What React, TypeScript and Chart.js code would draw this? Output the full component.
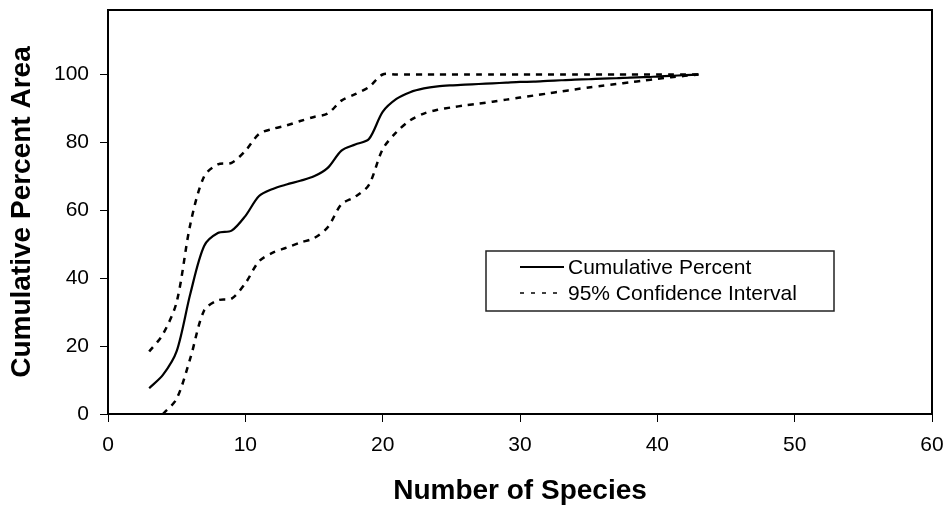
import React, { useEffect, useRef } from "react";
import { Chart, registerables } from "chart.js";

Chart.register(...registerables);

const speciesCount = [
  3, 4, 5, 6, 7, 8, 9, 10, 11, 12, 13, 14, 15, 16, 17, 18, 19, 20, 21, 22, 23,
  24, 25, 26, 27, 28, 29, 30, 31, 32, 33, 34, 35, 36, 37, 38, 39, 40, 41, 42, 43,
];

const cumulativePercent = [
  7.6, 11.5, 18.5, 35.5, 49.5, 53.3, 54, 58.3, 64.2, 66.3, 67.6, 68.7, 70, 72.5,
  77.6, 79.4, 81, 89, 92.8, 94.8, 95.9, 96.5, 96.8, 97.0, 97.2, 97.4, 97.6, 97.8,
  97.9, 98.1, 98.3, 98.5, 98.6, 98.8, 98.9, 99.1, 99.2, 99.4, 99.6, 99.8, 100,
];

const upperCI = [
  18.4, 23.5, 33, 56, 70, 73.5, 74, 77.5, 82.5, 84, 85, 86.3, 87.5, 88.5, 92.3,
  94.2, 96.3, 100, 100, 100, 100, 100, 100, 100, 100, 100, 100, 100, 100, 100,
  100, 100, 100, 100, 100, 100, 100, 100, 100, 100, 100,
];

const lowerCI: (number | null)[] = [
  null, 0, 4.5, 16.5, 30.5, 33.5, 34, 38.5, 45, 47.5, 49, 50.5, 51.8, 55, 61.8,
  64, 67.5, 78, 83, 86.5, 88.5, 89.6, 90.3, 90.9, 91.4, 92, 92.6, 93.2, 93.8,
  94.4, 95, 95.6, 96.2, 96.7, 97.2, 97.7, 98.2, 98.7, 99.2, 99.6, 100,
];

const xTickValues = [0, 10, 20, 30, 40, 50, 60];
const yTickValues = [0, 20, 40, 60, 80, 100];
const legendLabels = ["Cumulative Percent", "95% Confidence Interval"];

const FONT = "'Liberation Sans', Arial, sans-serif";

const toPoints = (ys: (number | null)[]) =>
  speciesCount.map((x, i) => ({ x, y: ys[i] }));

const framePlugin = {
  id: "frame",
  afterDatasetsDraw(chart: any) {
    const { ctx, chartArea } = chart;
    ctx.save();
    ctx.strokeStyle = "#000";
    ctx.lineWidth = 2;
    ctx.strokeRect(
      chartArea.left,
      chartArea.top,
      chartArea.right - chartArea.left,
      chartArea.bottom - chartArea.top
    );
    ctx.restore();
  },
};

const boxLegendPlugin = {
  id: "boxLegend",
  afterDraw(chart: any) {
    const ctx = chart.ctx;
    const left = 486;
    const top = 251;
    const w = 348;
    const h = 60;
    ctx.save();
    ctx.fillStyle = "#fff";
    ctx.fillRect(left, top, w, h);
    ctx.strokeStyle = "#222";
    ctx.lineWidth = 1.5;
    ctx.strokeRect(left, top, w, h);
    ctx.font = `21px ${FONT}`;
    ctx.fillStyle = "#000";
    ctx.textBaseline = "middle";
    ctx.textAlign = "left";
    const rows = [267, 293];
    rows.forEach((cy, i) => {
      ctx.beginPath();
      ctx.strokeStyle = "#000";
      ctx.lineWidth = i === 0 ? 1.8 : 1.6;
      ctx.setLineDash(i === 0 ? [] : [4, 7]);
      ctx.moveTo(520, cy);
      ctx.lineTo(564, cy);
      ctx.stroke();
      ctx.setLineDash([]);
      ctx.fillText(legendLabels[i], 568, cy + 1);
    });
    ctx.restore();
  },
};

const zeroPadding = (scale: any) => {
  scale.paddingTop = 0;
  scale.paddingBottom = 0;
  scale.paddingLeft = 0;
  scale.paddingRight = 0;
};

export default function App() {
  const ref = useRef<HTMLCanvasElement | null>(null);

  useEffect(() => {
    if (!ref.current) return;
    const chart = new Chart(ref.current, {
      type: "line",
      data: {
        datasets: [
          {
            label: legendLabels[0],
            data: toPoints(cumulativePercent),
            borderColor: "#000",
            borderWidth: 2.2,
            pointRadius: 0,
            tension: 0.3,
            fill: false,
          },
          {
            label: legendLabels[1],
            data: toPoints(upperCI),
            borderColor: "#000",
            borderWidth: 2.5,
            borderDash: [6, 6],
            pointRadius: 0,
            tension: 0.3,
            fill: false,
          },
          {
            label: legendLabels[1],
            data: toPoints(lowerCI),
            borderColor: "#000",
            borderWidth: 2.5,
            borderDash: [6, 6],
            pointRadius: 0,
            tension: 0.3,
            fill: false,
            spanGaps: false,
          },
        ],
      },
      options: {
        responsive: false,
        animation: false,
        events: [],
        layout: { padding: { left: 0, top: 10, right: 15, bottom: 0 } },
        plugins: {
          legend: { display: false },
          tooltip: { enabled: false },
          title: { display: false },
        },
        scales: {
          x: {
            type: "linear",
            min: 0,
            max: 60,
            afterBuildTicks: (scale: any) => {
              scale.ticks = xTickValues.map((v) => ({ value: v }));
            },
            afterFit: (scale: any) => {
              scale.height = 94;
              zeroPadding(scale);
            },
            ticks: {
              color: "#000",
              font: { family: FONT, size: 21 },
              padding: 11,
              maxRotation: 0,
              autoSkip: false,
            },
            grid: {
              display: true,
              drawOnChartArea: false,
              drawTicks: true,
              tickLength: 8,
              color: "#000",
              lineWidth: 1,
            },
            border: { display: true, color: "#000", width: 2 },
            title: {
              display: true,
              text: "Number of Species",
              color: "#000",
              font: { family: FONT, size: 28, weight: "bold" },
              padding: { top: 0, bottom: 0 },
            },
          },
          y: {
            type: "linear",
            min: 0,
            max: 119,
            afterBuildTicks: (scale: any) => {
              scale.ticks = yTickValues.map((v) => ({ value: v }));
            },
            afterFit: (scale: any) => {
              scale.width = 108;
              zeroPadding(scale);
            },
            ticks: {
              color: "#000",
              font: { family: FONT, size: 21 },
              padding: 11,
              autoSkip: false,
            },
            grid: {
              display: true,
              drawOnChartArea: false,
              drawTicks: true,
              tickLength: 8,
              color: "#000",
              lineWidth: 1,
            },
            border: { display: true, color: "#000", width: 2 },
            title: {
              display: true,
              text: "Cumulative Percent Area",
              color: "#000",
              font: { family: FONT, size: 28, weight: "bold" },
              padding: { top: 5, bottom: 0 },
            },
          },
        },
      },
      plugins: [framePlugin, boxLegendPlugin],
    } as any);
    return () => chart.destroy();
  }, []);

  return (
    <div style={{ position: "fixed", left: 0, top: 0, width: 947, height: 508, background: "#fff" }}>
      <canvas ref={ref} width={947} height={508} style={{ display: "block" }} />
    </div>
  );
}
